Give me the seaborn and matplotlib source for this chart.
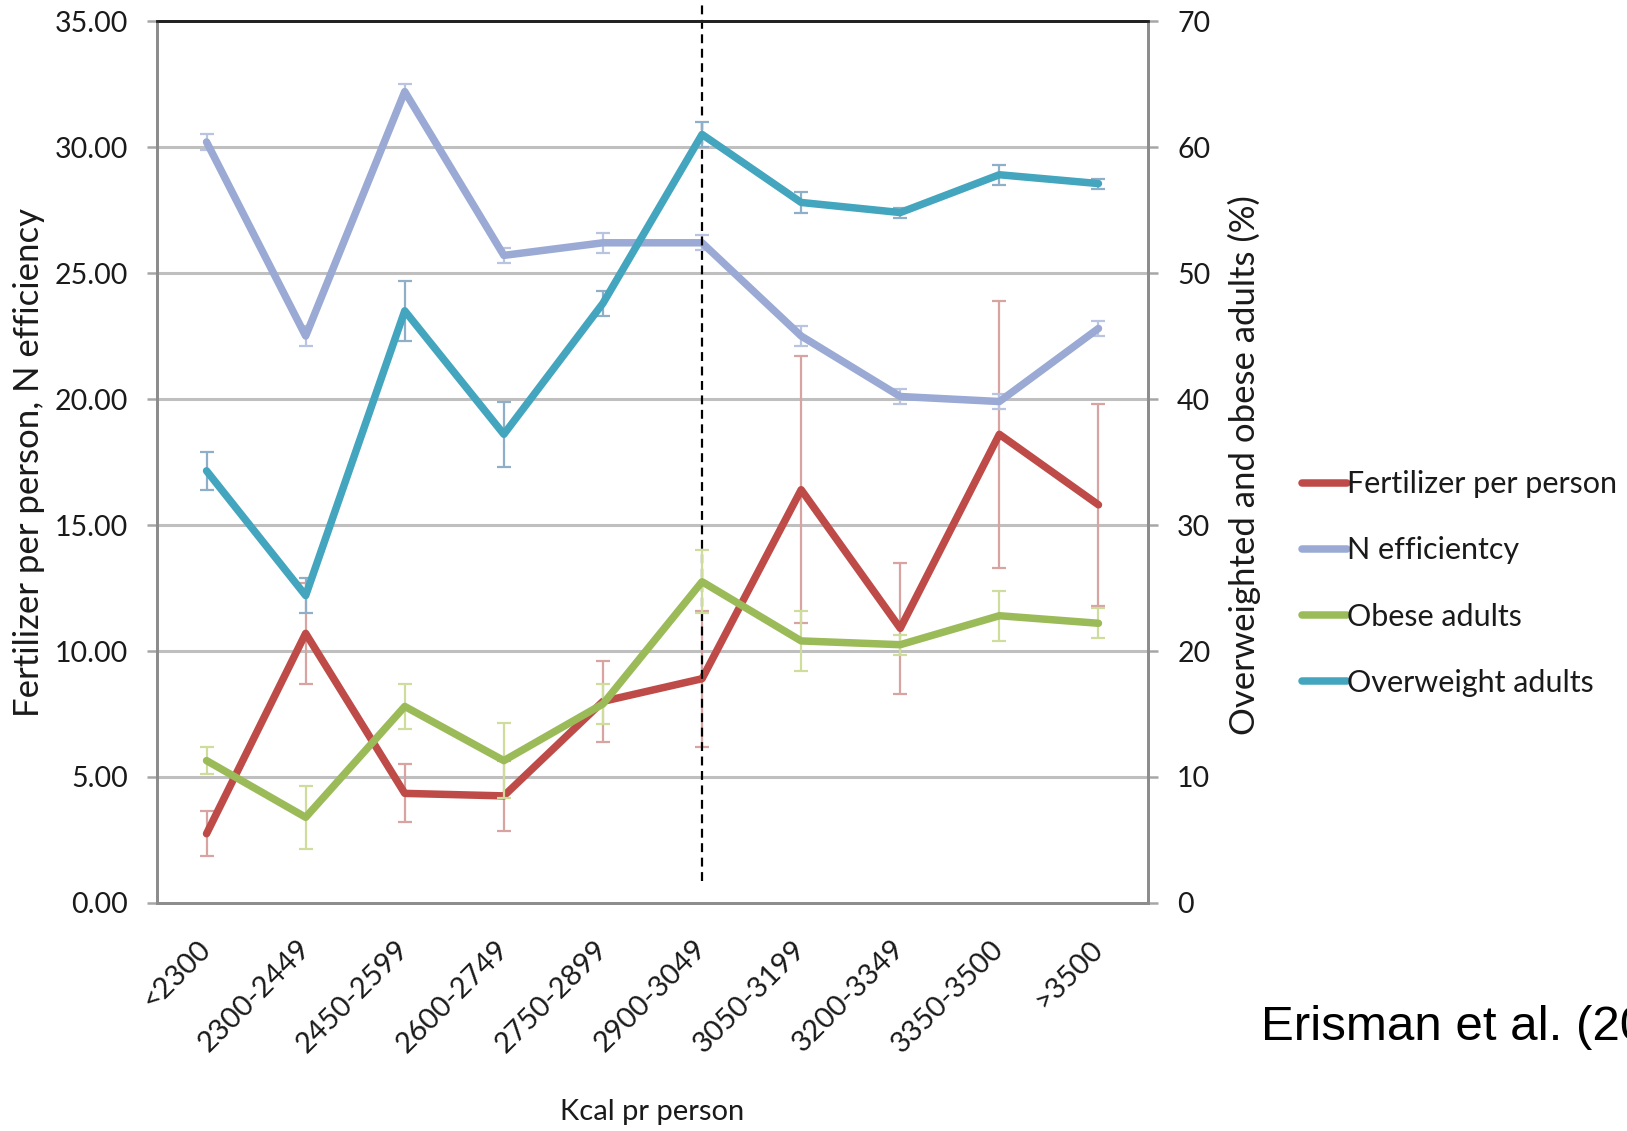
import matplotlib
matplotlib.use("Agg")
import matplotlib.pyplot as plt
import seaborn as sns
import pandas as pd
import numpy as np

# Kcal intake classes
categories = ["<2300", "2300-2449", "2450-2599", "2600-2749", "2750-2899",
              "2900-3049", "3050-3199", "3200-3349", "3350-3500", ">3500"]

# Left axis series
fertilizer = [2.75, 10.7, 4.35, 4.25, 8.0, 8.9, 16.4, 10.9, 18.6, 15.8]
fertilizer_err = [0.9, 2.0, 1.15, 1.4, 1.6, 2.7, 5.3, 2.6, 5.3, 4.0]
n_efficiency = [30.2, 22.5, 32.2, 25.7, 26.2, 26.2, 22.5, 20.1, 19.9, 22.8]
n_efficiency_err = [0.3, 0.4, 0.3, 0.3, 0.4, 0.3, 0.4, 0.3, 0.3, 0.3]

# Right axis series (%)
obese = [11.3, 6.8, 15.6, 11.3, 15.8, 25.5, 20.8, 20.5, 22.8, 22.2]
obese_err = [1.1, 2.5, 1.8, 3.0, 1.6, 2.5, 2.4, 0.8, 2.0, 1.2]
overweight = [34.3, 24.4, 47.0, 37.2, 47.6, 61.0, 55.6, 54.8, 57.8, 57.1]
overweight_err = [1.5, 1.4, 2.4, 2.6, 1.0, 1.0, 0.8, 0.4, 0.8, 0.4]

left_ticks = [0, 5, 10, 15, 20, 25, 30, 35]
right_ticks = [0, 10, 20, 30, 40, 50, 60, 70]
split_category = "2900-3049"

C_FERT = "#BE4B48"
C_NEFF = "#9AAAD4"
C_OBESE = "#9BBB59"
C_OVER = "#43A5BE"

sns.set_style("white")
plt.rcParams["font.family"] = ["Lato", "DejaVu Sans"]
plt.rcParams["text.color"] = "#1a1a1a"
plt.rcParams["axes.labelcolor"] = "#1a1a1a"

fig = plt.figure(figsize=(16.27, 11.31), dpi=100)
ax = fig.add_axes([0.0965, 0.2016, 0.6091, 0.7798])
ax2 = ax.twinx()

x = np.arange(len(categories))
df = pd.DataFrame({
    "Kcal": categories,
    "fert": fertilizer,
    "neff": n_efficiency,
    "obese": obese,
    "over": overweight,
})

GRID = "#BFBFBF"
SPINE = "#8C8C8C"
LW = 5.4

# grid first, beneath everything
for t in left_ticks[1:-1]:
    ax.axhline(t, color=GRID, lw=2.2, zorder=0)

# left axis: error bars then lines
ax.errorbar(x, fertilizer, yerr=fertilizer_err, fmt="none", ecolor="#D8A4A2",
            elinewidth=1.6, capsize=5, capthick=1.6, zorder=2)
ax.errorbar(x, n_efficiency, yerr=n_efficiency_err, fmt="none", ecolor="#B9C4E0",
            elinewidth=1.6, capsize=5, capthick=1.6, zorder=2)
sns.lineplot(data=df, x="Kcal", y="fert", ax=ax, sort=False, color=C_FERT,
             lw=LW, label="Fertilizer per person", legend=False, zorder=3)
sns.lineplot(data=df, x="Kcal", y="neff", ax=ax, sort=False, color=C_NEFF,
             lw=LW, label="N efficientcy", legend=False, zorder=3)

# right axis
ax2.errorbar(x, obese, yerr=obese_err, fmt="none", ecolor="#CEDC9C",
             elinewidth=1.6, capsize=5, capthick=1.6, zorder=2)
ax2.errorbar(x, overweight, yerr=overweight_err, fmt="none", ecolor="#8FAFC8",
             elinewidth=1.6, capsize=5, capthick=1.6, zorder=2)
sns.lineplot(data=df, x="Kcal", y="obese", ax=ax2, sort=False, color=C_OBESE,
             lw=LW, label="Obese adults", legend=False, zorder=3)
sns.lineplot(data=df, x="Kcal", y="over", ax=ax2, sort=False, color=C_OVER,
             lw=LW, label="Overweight adults", legend=False, zorder=3)

# dashed separator at the 2900-3049 class
xs = categories.index(split_category)
ax.plot([xs, xs], [0.87, 35.7], color="black", lw=1.6, ls=(0, (4, 2.5)),
        clip_on=False, zorder=5)

# scales
for a in (ax, ax2):
    a.set_xlim(-0.5, len(categories) - 0.5)
ax.set_ylim(0, 35)
ax2.set_ylim(0, 70)
ax.set_yticks(left_ticks)
ax.set_yticklabels([f"{v:.2f}" for v in left_ticks])
ax2.set_yticks(right_ticks)
ax2.set_yticklabels([str(v) for v in right_ticks])

ax.set_xticks(x)
ax.set_xticklabels(categories, rotation=45, ha="right", va="center",
                   rotation_mode="anchor")
ax.set_xticks(np.arange(-0.5, len(categories) + 0.5, 1.0), minor=True)
ax.tick_params(axis="x", which="major", length=0, pad=30, labelsize=21,
               labelcolor="#1a1a1a")
ax.tick_params(axis="x", which="minor", length=7, width=1.8, color="#A6A6A6",
               direction="out")
ax.tick_params(axis="y", which="major", length=7, width=1.8, color="#A6A6A6",
               direction="out", pad=14, labelsize=20.5, labelcolor="#1a1a1a")
ax2.tick_params(axis="y", which="major", length=7, width=1.8, color="#A6A6A6",
                direction="out", pad=14, labelsize=20.5, labelcolor="#1a1a1a")
ax2.set_xlabel("")
ax2.grid(False)
ax.grid(False)

for a in (ax, ax2):
    for side in ("left", "right", "bottom"):
        a.spines[side].set_color(SPINE)
        a.spines[side].set_linewidth(2.0)
    a.spines["top"].set_color("#222222")
    a.spines["top"].set_linewidth(2.0)

ax.set_xlabel("Kcal pr person", fontsize=21)
ax.xaxis.set_label_coords(0.5, -0.222)
ax.set_ylabel("Fertilizer per person, N efficiency", fontsize=25)
ax.yaxis.set_label_coords(-0.113, 0.5)
ax2.set_ylabel("Overweighted and obese adults (%)", fontsize=25)
ax2.yaxis.set_label_coords(1.081, 0.497)

# legend from both axes
h1, l1 = ax.get_legend_handles_labels()
h2, l2 = ax2.get_legend_handles_labels()
fig.legend(h1 + h2, l1 + l2, loc="center left", bbox_to_anchor=(0.800, 0.4840),
           frameon=False, fontsize=22, handlelength=1.5, handletextpad=0.0,
           labelspacing=1.25, borderpad=0, borderaxespad=0)

fig.text(1261 / 1627, 0.0805, "Erisman et al. (2008)", fontsize=35.5,
         family=["Liberation Sans", "DejaVu Sans"], va="baseline", ha="left",
         color="black")

fig.savefig("out.png", dpi=100, facecolor="white")
